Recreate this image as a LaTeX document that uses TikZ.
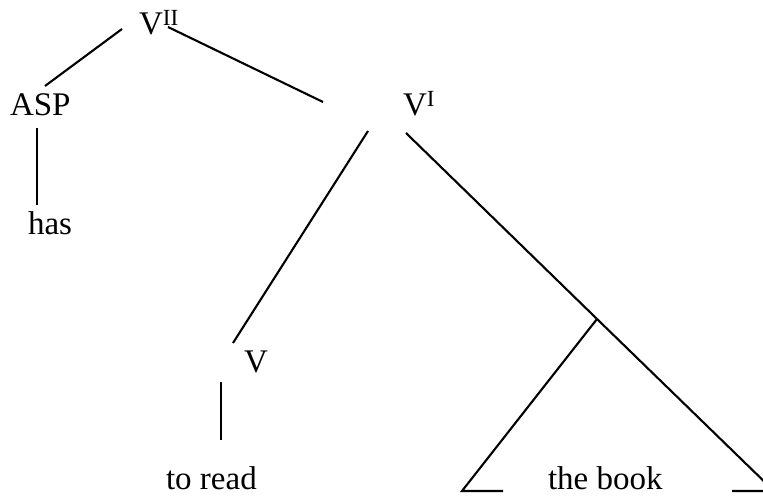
\documentclass[tikz,border=0pt]{standalone}
\usepackage{fontspec}
\setmainfont{Liberation Serif}
\usepackage{tikz}
\usetikzlibrary{positioning}
\newcommand\treefont{\fontsize{33}{40}\selectfont}

\begin{document}
\begin{tikzpicture}[x=1pt, y=1pt, line width=2.1pt,
    every node/.style={font=\treefont, inner sep=0pt, anchor=base west}]
  \useasboundingbox (0,0) rectangle (763,497);
  \node (v2) at (138,462) {V\textsuperscript{II}};
  \node (asp) at (9,381) {ASP};
  \node (has) at (27,262) {has};
  \node (v1) at (402,381) {V\textsuperscript{I}};
  \node (v) at (243,124) {V};
  \node (toread) at (165,7) {to read};
  \node (thebook) at (547,7) {the book};
  \coordinate (v2l) at (122,468);
  \coordinate (aspt) at (45,411);
  \coordinate (v2r) at (168,470);
  \coordinate (v1t) at (323,395);
  \coordinate (aspb) at (37,369);
  \coordinate (hast) at (37,292);
  \coordinate (v1l) at (368,366);
  \coordinate (vt) at (233,154);
  \coordinate (vb) at (221,115);
  \coordinate (toreadt) at (221,57);
  \coordinate (v1r) at (406,364);
  \coordinate (np) at (597,178);
  \coordinate (trl) at (462,6);
  \coordinate (trlr) at (503,6);
  \coordinate (trr) at (774,6);
  \coordinate (trrl) at (732,6);
  \draw (v2l) -- (aspt);
  \draw (v2r) -- (v1t);
  \draw (aspb) -- (hast);
  \draw (v1l) -- (vt);
  \draw (vb) -- (toreadt);
  \draw (v1r) -- (np) -- (trr) -- (trrl);
  \draw (np) -- (trl) -- (trlr);
\end{tikzpicture}
\end{document}
